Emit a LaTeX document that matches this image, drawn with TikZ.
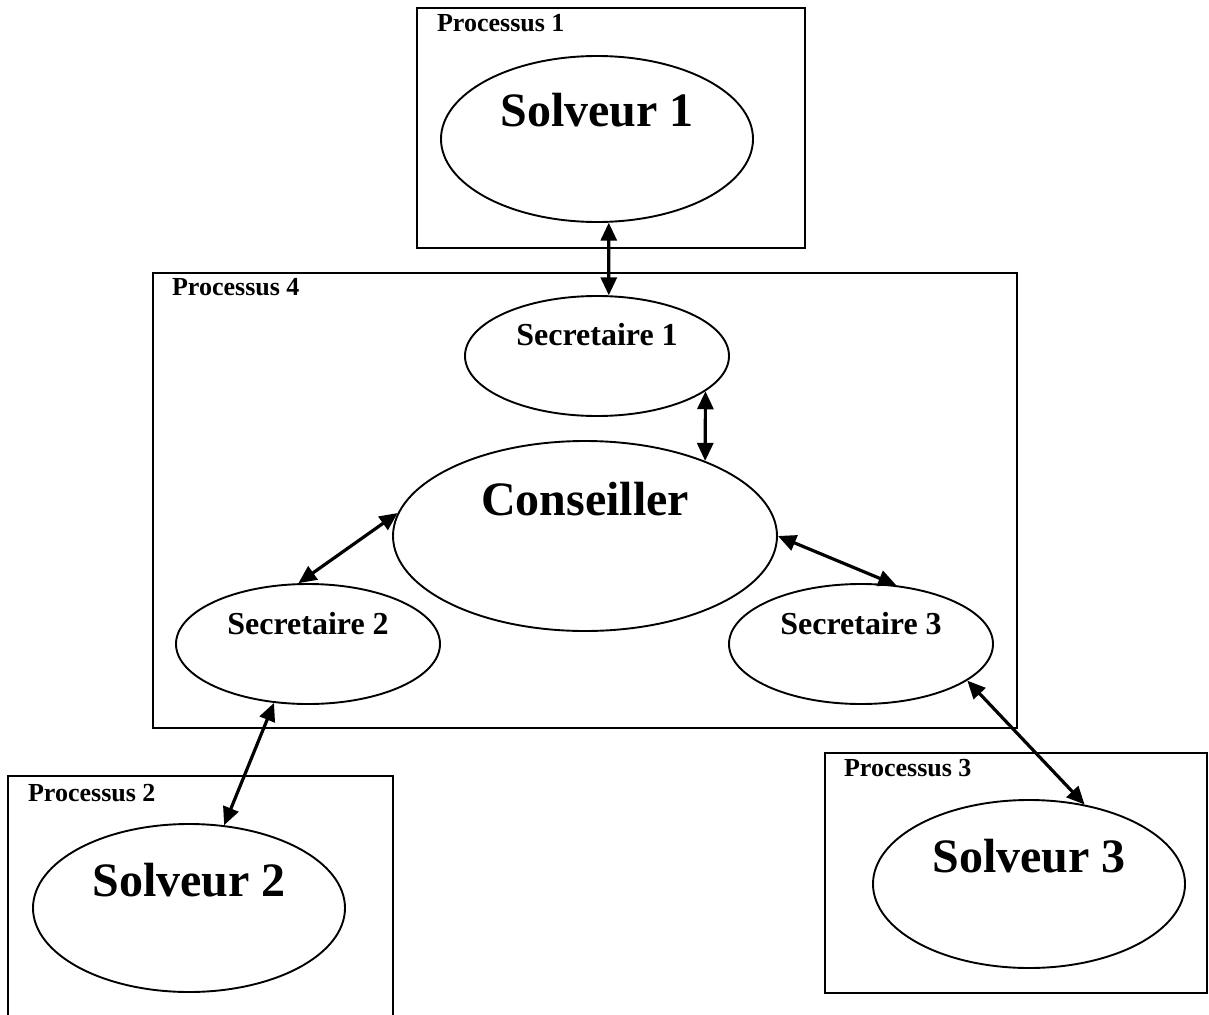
\documentclass[tikz,border=0pt]{standalone}
\usepackage{fontspec}
\setmainfont{Liberation Serif}
\usetikzlibrary{arrows.meta,shapes.geometric}

\begin{document}
\begin{tikzpicture}[
    x=1pt, y=-1pt,
    proc/.style={draw, line width=2.2pt, rectangle, inner sep=0pt},
    plabel/.style={anchor=base west, inner sep=0pt, font=\fontsize{26}{30}\selectfont\bfseries},
    oval/.style={draw, line width=1.9pt, ellipse, inner sep=0pt},
    bigtxt/.style={anchor=base, inner sep=0pt, font=\fontsize{48}{56}\selectfont\bfseries},
    midtxt/.style={anchor=base, inner sep=0pt, font=\fontsize{32}{38}\selectfont\bfseries},
    arr/.style={{Triangle[length=18pt,width=16pt]}-{Triangle[length=18pt,width=16pt]}, line width=3.2pt}
  ]
    \useasboundingbox (0,0) rectangle (1209,1014);

    % processus
    \node[proc, minimum width=388pt, minimum height=240pt] (p1) at (611,128) {};
    \node[proc, minimum width=864pt, minimum height=455pt] (p4) at (585,500.5) {};
    \node[proc, minimum width=385pt, minimum height=248pt] (p2) at (200.5,900) {};
    \node[proc, minimum width=382pt, minimum height=240pt] (p3) at (1016,873) {};
    \node[plabel] (p1l) at ([xshift=21pt,yshift=-25pt]p1.north west) {Processus 1};
    \node[plabel] (p4l) at ([xshift=20pt,yshift=-24pt]p4.north west) {Processus 4};
    \node[plabel] (p2l) at ([xshift=21pt,yshift=-27pt]p2.north west) {Processus 2};
    \node[plabel] (p3l) at ([xshift=20pt,yshift=-25pt]p3.north west) {Processus 3};

    % agents
    \node[oval, minimum width=312pt, minimum height=166pt] (sol1) at (597,139) {};
    \node[oval, minimum width=264pt, minimum height=120pt] (sec1) at (597,356) {};
    \node[oval, minimum width=384pt, minimum height=190pt] (cons) at (585,536) {};
    \node[oval, minimum width=264pt, minimum height=120pt] (sec2) at (308,644) {};
    \node[oval, minimum width=264pt, minimum height=120pt] (sec3) at (861,644) {};
    \node[oval, minimum width=312pt, minimum height=168pt] (sol2) at (189,908) {};
    \node[oval, minimum width=312pt, minimum height=168pt] (sol3) at (1029,884) {};

    \node[bigtxt] (sol1t) at ([yshift=12pt]sol1.center) {Solveur 1};
    \node[midtxt] (sec1t) at ([yshift=11pt]sec1.center) {Secretaire 1};
    \node[bigtxt] (const) at ([yshift=21pt]cons.center) {Conseiller};
    \node[midtxt] (sec2t) at ([yshift=10pt]sec2.center) {Secretaire 2};
    \node[midtxt] (sec3t) at ([yshift=10pt]sec3.center) {Secretaire 3};
    \node[bigtxt] (sol2t) at ([yshift=12pt]sol2.center) {Solveur 2};
    \node[bigtxt] (sol3t) at ([yshift=12pt]sol3.center) {Solveur 3};

    \draw[arr] (sol1.278) -- (sec1.79);
    \draw[arr] (sec1.342) -- (cons.32);
    \draw[arr] (cons.173) -- (sec2.99);
    \draw[arr] (cons.0) -- (sec3.59);
    \draw[arr] (sec2.240) -- (sol2.67);
    \draw[arr] (sec3.341) -- (sol3.55);
  \end{tikzpicture}
\end{document}
